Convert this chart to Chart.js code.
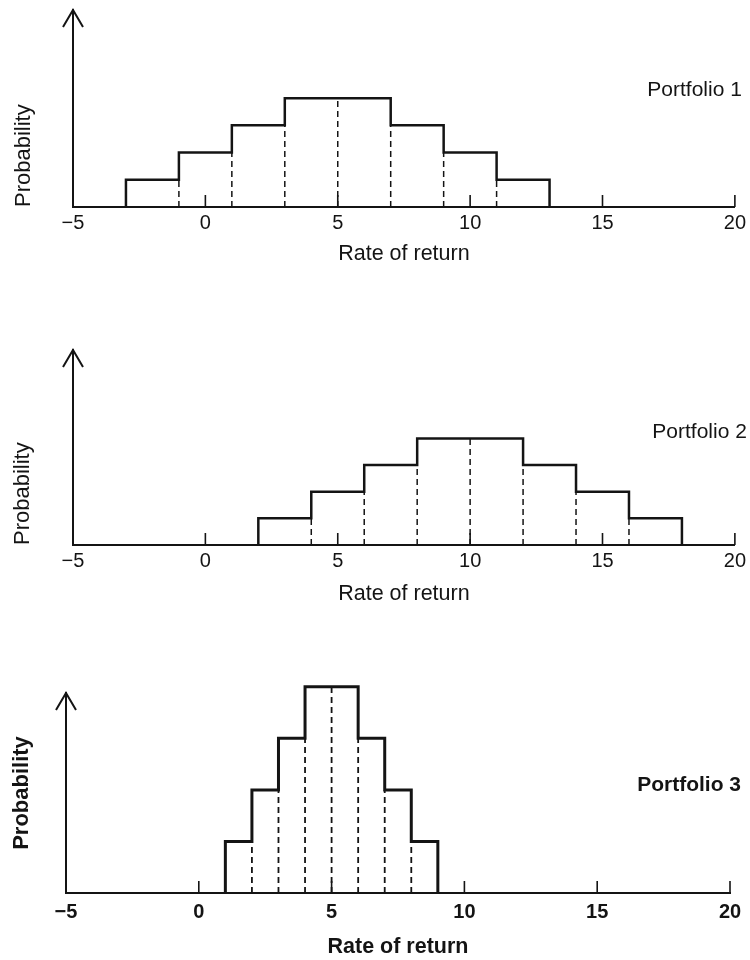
<!DOCTYPE html>
<html><head><meta charset="utf-8">
<script src="https://cdn.jsdelivr.net/npm/chart.js@4.4.1/dist/chart.umd.min.js"></script>
<style>
html,body{margin:0;padding:0;background:#fff;width:750px;height:960px;overflow:hidden;}
canvas{position:absolute;left:0;}
</style></head><body>
<canvas id="c1" width="750" height="267" style="top:0px"></canvas>
<canvas id="c2" width="750" height="267" style="top:340px"></canvas>
<canvas id="c3" width="750" height="300" style="top:660px"></canvas>
<script>
// ---- data ----
const xTickValues = [-5, 0, 5, 10, 15, 20];
const xTickLabels = ['\u22125', '0', '5', '10', '15', '20'];
const xAxisTitle = 'Rate of return';
const yAxisTitle = 'Probability';

const p1Label = 'Portfolio 1';
const p1Edges = [-3, -1, 1, 3, 5, 7, 9, 11, 13];
const p1Probs = [1, 2, 3, 4, 4, 3, 2, 1];

const p2Label = 'Portfolio 2';
const p2Edges = [2, 4, 6, 8, 10, 12, 14, 16, 18];
const p2Probs = [1, 2, 3, 4, 4, 3, 2, 1];

const p3Label = 'Portfolio 3';
const p3Edges = [1, 2, 3, 4, 5, 6, 7, 8, 9];
const p3Probs = [1, 2, 3, 4, 4, 3, 2, 1];

// ---- drawing ----
const ink = '#141414';
const FONT = "'Liberation Sans', Arial, Helvetica, sans-serif";

const decor = {
  id: 'decor',
  afterDatasetsDraw(chart, args, o) {
    const {ctx, chartArea: a, scales: {x}} = chart;
    ctx.save();
    ctx.strokeStyle = ink;
    ctx.lineWidth = 1.6;
    x.ticks.forEach(t => {
      if (t.value === x.min) return;
      const px = x.getPixelForValue(t.value);
      ctx.beginPath(); ctx.moveTo(px, a.bottom); ctx.lineTo(px, a.bottom - 12); ctx.stroke();
    });
    ctx.lineWidth = 2;
    ctx.beginPath();
    ctx.moveTo(a.left - 10, a.top + 17); ctx.lineTo(a.left, a.top); ctx.lineTo(a.left + 10, a.top + 17);
    ctx.stroke();
    ctx.fillStyle = ink;
    ctx.font = (o.bold ? 'bold ' : '') + '21px ' + FONT;
    ctx.textAlign = 'right'; ctx.textBaseline = 'middle';
    ctx.fillText(o.text, a.right + o.dx, a.top + o.dy);
    ctx.restore();
  }
};

function makeChart(id, edges, probs, label, cfg) {
  const outline = [{x: edges[0], y: 0}];
  edges.forEach((e, i) => outline.push({x: e, y: i < probs.length ? probs[i] : 0}));
  const datasets = [{
    data: outline, stepped: 'before', borderColor: ink, borderWidth: cfg.stepWidth,
    pointRadius: 0, fill: false, clip: false, borderJoinStyle: 'miter'
  }];
  for (let i = 1; i < edges.length - 1; i++) {
    datasets.push({
      data: [{x: edges[i], y: 0}, {x: edges[i], y: Math.min(probs[i - 1], probs[i])}],
      borderColor: ink, borderWidth: cfg.dashWidth, borderDash: [6, 4],
      pointRadius: 0, fill: false, clip: false
    });
  }
  const weight = cfg.bold ? 'bold' : 'normal';
  return new Chart(document.getElementById(id), {
    type: 'line',
    data: {datasets},
    plugins: [decor],
    options: {
      responsive: false, animation: false,
      layout: {padding: {top: cfg.padTop, right: cfg.padRight, bottom: 0, left: 0}},
      plugins: {legend: {display: false}, tooltip: {enabled: false},
        decor: {text: label, dx: cfg.labelDx, dy: cfg.labelDy, bold: cfg.bold}},
      scales: {
        x: {
          type: 'linear', min: xTickValues[0], max: xTickValues[xTickValues.length - 1],
          afterBuildTicks: s => { s.ticks = xTickValues.map(v => ({value: v})); },
          afterFit: s => { s.height = cfg.xHeight; },
          grid: {display: false, drawTicks: false},
          border: {display: true, color: ink, width: 2},
          ticks: {color: ink, padding: cfg.tickPad, maxRotation: 0, autoSkip: false,
            font: {family: FONT, size: 20, weight},
            callback: (v) => xTickLabels[xTickValues.indexOf(v)]},
          title: {display: true, text: xAxisTitle, color: ink, padding: {top: 0, bottom: 0},
            font: {family: FONT, size: 21.5, weight}}
        },
        y: {
          type: 'linear', min: 0, max: cfg.yMax,
          afterFit: s => { s.width = cfg.yWidth; },
          grid: {display: false, drawTicks: false},
          border: {display: true, color: ink, width: 2},
          ticks: {display: false},
          title: {display: true, text: yAxisTitle, color: ink, align: cfg.yAlign,
            padding: {top: cfg.yTitlePad, bottom: 0},
            font: {family: FONT, size: 22, weight}}
        }
      }
    }
  });
}

makeChart('c1', p1Edges, p1Probs, p1Label, {
  stepWidth: 2.5, dashWidth: 1.5, bold: false, padTop: 10, padRight: 15,
  xHeight: 60, yWidth: 73, yMax: 7.24, tickPad: 4, yAlign: 'start', yTitlePad: 11,
  labelDx: 7, labelDy: 80
});
makeChart('c2', p2Edges, p2Probs, p2Label, {
  stepWidth: 2.5, dashWidth: 1.5, bold: false, padTop: 10, padRight: 15,
  xHeight: 62, yWidth: 73, yMax: 7.32, tickPad: 4, yAlign: 'start', yTitlePad: 10,
  labelDx: 12, labelDy: 82
});
makeChart('c3', p3Edges, p3Probs, p3Label, {
  stepWidth: 3, dashWidth: 1.8, bold: true, padTop: 33, padRight: 20,
  xHeight: 67, yWidth: 66, yMax: 3.88, tickPad: 7, yAlign: 'center', yTitlePad: 9,
  labelDx: 11, labelDy: 92
});
</script>
</body></html>
